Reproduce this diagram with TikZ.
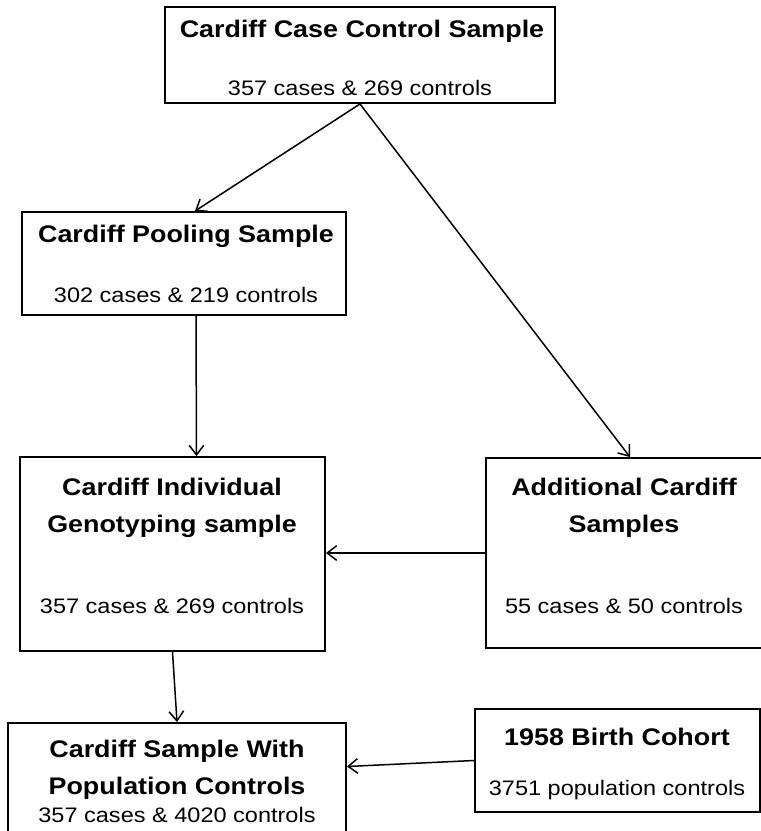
\documentclass[tikz,border=0pt]{standalone}
\usepackage{fontspec}
\setmainfont{Liberation Sans}[FakeStretch=1.12]
\usepackage{tikz}
\usetikzlibrary{arrows.meta, calc}

\begin{document}
\begin{tikzpicture}[
    x=1pt, y=-1pt,
    >={Straight Barb[angle=75:12pt]},
    box/.style={draw, line width=1.9pt, inner sep=0pt},
    head/.style={font=\bfseries\fontsize{24}{37}\selectfont, align=center, inner sep=0pt},
    count/.style={font=\fontsize{21}{25}\selectfont, inner sep=0pt},
    link/.style={->, line width=1.5pt}
]
\useasboundingbox (0,0) rectangle (761,831);

% ==================== BOXES ====================
\node[box, minimum width=390pt, minimum height=96pt] (casectl) at (360,55) {};
\node[box, minimum width=324pt, minimum height=103pt] (pooling) at (184,263.5) {};
\node[box, minimum width=305pt, minimum height=194pt] (indiv) at (172.5,554) {};
\node[box, minimum width=276pt, minimum height=190pt] (addit) at (624,553) {};
\node[box, minimum width=338pt, minimum height=160pt] (popctl) at (177,803) {};
\node[box, minimum width=285pt, minimum height=103pt] (birth) at (617.5,760.5) {};

% ==================== TEXTS ====================
\node[head] (casectl title) at (362,31) {Cardiff Case Control Sample};
\node[count] (casectl count) at (360,88) {357 cases \& 269 controls};

\node[head] (pooling title) at (186,236) {Cardiff Pooling Sample};
\node[count] (pooling count) at (186,295) {302 cases \& 219 controls};

\node[head] (indiv title) at (172,508) {Cardiff Individual\\Genotyping sample};
\node[count] (indiv count) at (172,606) {357 cases \& 269 controls};

\node[head] (addit title) at (624,508) {Additional Cardiff\\Samples};
\node[count] (addit count) at (624,606) {55 cases \& 50 controls};

\node[head] (popctl title) at (177,770) {Cardiff Sample With\\Population Controls};
\node[count] (popctl count) at (177,815) {357 cases \& 4020 controls};

\node[head] (birth title) at (617,737) {1958 Birth Cohort};
\node[count] (birth count) at (617,790) {3751 population controls};

% ==================== ARROWS ====================
\draw[link] (casectl.south) -- ($(pooling.north)+(11,0)$);
\draw[link] (casectl.south) -- ($(addit.north)+(6,0)$);
\draw[link] ($(pooling.south)+(12,0)$) -- ($(indiv.north)+(24,0)$);
\draw[link] (addit.west) -- (addit.west -| indiv.east);
\draw[link] (indiv.south) -- (popctl.north);
\draw[link] (birth.west) -- ($(popctl.east |- birth.west)+(0,6)$);

\end{tikzpicture}
\end{document}
